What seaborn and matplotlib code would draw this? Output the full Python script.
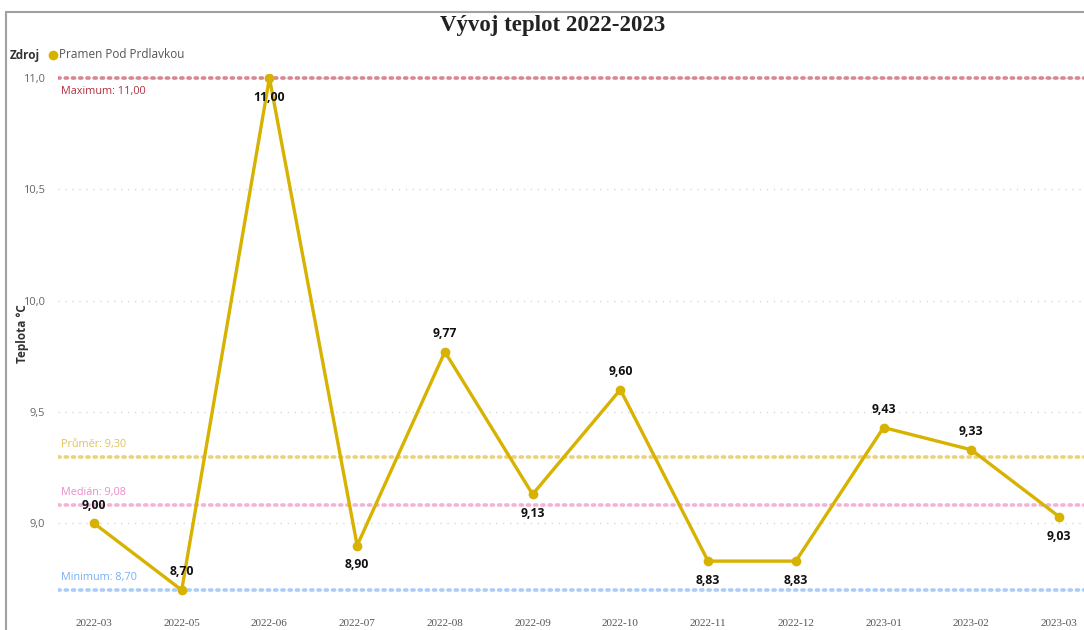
import matplotlib
matplotlib.use("Agg")
import matplotlib.pyplot as plt
import seaborn as sns
import numpy as np
from matplotlib.lines import Line2D
from matplotlib.ticker import FuncFormatter, FixedLocator

# Data
months = ["2022-03", "2022-05", "2022-06", "2022-07", "2022-08", "2022-09",
          "2022-10", "2022-11", "2022-12", "2023-01", "2023-02", "2023-03"]
temps = [9.00, 8.70, 11.00, 8.90, 9.77, 9.13, 9.60, 8.83, 8.83, 9.43, 9.33, 9.03]
label_above = [True, True, False, False, True, False, True, False, False, True, True, False]

series_name = "Pramen Pod Prdlavkou"
line_color = "#D7B200"

t_max = np.max(temps)
t_min = np.min(temps)
t_mean = np.mean(temps)
t_median = np.median(temps)

sns.set_theme(style="white")
plt.rcParams['font.family'] = ['Open Sans', 'DejaVu Sans']

fig = plt.figure(figsize=(10.84, 6.3), dpi=100)
ax = fig.add_axes([58 / 1084, 1 - 594.5 / 630, 1 - 58 / 1084, 521 / 630])

# reference lines (Power BI style analytics lines)
ref_lines = [
    (t_max, "#DA8690", "#B3303F", "Maximum", "below"),
    (t_mean, "#EBD27A", "#E2C152", "Průměr", "above"),
    (t_median, "#F4B2D6", "#EE8ACB", "Medián", "above"),
    (t_min, "#A9CDF7", "#78B0F2", "Minimum", "above"),
]
for val, lc, tc, name, pos in ref_lines:
    ax.axhline(val, color=lc, lw=2.6, linestyle=(0, (0.6, 1.4)),
               dash_capstyle="round", zorder=1)
    off = -10 if pos == "below" else 9
    ax.annotate(f"{name}: {val:.2f}".replace(".", ","), xy=(0, val),
                xycoords=("axes fraction", "data"), xytext=(2, off),
                textcoords="offset points", ha="left", va="center",
                fontsize=7.8, color=tc)

sns.lineplot(x=months, y=temps, sort=False, ax=ax, color=line_color, lw=2.4,
             marker="o", markersize=7, markeredgewidth=0, zorder=3)

for i, (v, up) in enumerate(zip(temps, label_above)):
    ax.annotate(f"{v:.2f}".replace(".", ","), xy=(i, v),
                xytext=(0, 13 if up else -14), textcoords="offset points",
                ha="center", va="center", fontsize=8.8, fontweight="bold",
                color="#111111")

ax.set_xlim(-0.41, 11.285)
ax.set_ylim(8.68, 11.02)
ax.yaxis.set_major_locator(FixedLocator([9.0, 9.5, 10.0, 10.5, 11.0]))
ax.yaxis.set_major_formatter(FuncFormatter(lambda v, p: f"{v:.1f}".replace(".", ",")))
ax.yaxis.grid(True, color="#D8D8D8", linestyle=(0, (1, 4)), lw=1)
ax.xaxis.grid(False)
for s in ax.spines.values():
    s.set_visible(False)

ax.tick_params(axis="y", length=0, pad=9, labelsize=8, labelcolor="#666666")
ax.tick_params(axis="x", length=0, pad=17.5, labelsize=8, labelcolor="#555555")
for lab in ax.get_xticklabels():
    lab.set_family("Liberation Serif")

ax.set_xlabel("")
ax.set_ylabel("Teplota °C", fontsize=8.5, fontweight="bold", color="#333333")
ax.yaxis.set_label_coords(-29 / 1026, 0.5)

# title
fig.text(553 / 1084, 1 - 26 / 630, "Vývoj teplot 2022-2023", ha="center", va="center",
         family="Liberation Serif", fontweight="bold", fontsize=16.5, color="#222222")

# legend
fig.text(10 / 1084, 1 - 55 / 630, "Zdroj", ha="left", va="center",
         fontsize=8.5, fontweight="bold", color="#333333")
fig.add_artist(Line2D([53 / 1084], [1 - 55 / 630], marker="o", markersize=7,
                      markeredgewidth=0, color=line_color, transform=fig.transFigure))
fig.text(59 / 1084, 1 - 55 / 630, series_name, ha="left", va="center",
         fontsize=8.5, color="#555555")

# panel frame
fig.add_artist(Line2D([6 / 1084, 1], [1 - 12 / 630, 1 - 12 / 630], color="#A0A0A0",
                      lw=1.5, transform=fig.transFigure))
fig.add_artist(Line2D([6 / 1084, 6 / 1084], [0, 1 - 12 / 630], color="#A0A0A0",
                      lw=1.5, transform=fig.transFigure))

fig.savefig("out.png", dpi=100)
